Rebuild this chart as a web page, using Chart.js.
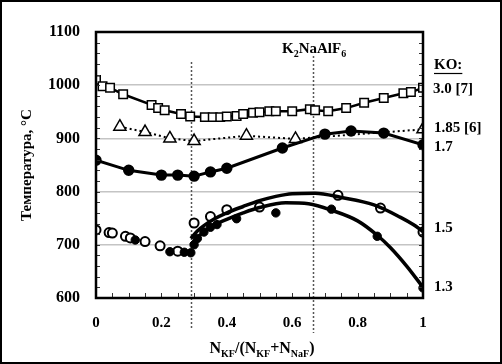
<!DOCTYPE html>
<html>
<head>
<meta charset="utf-8">
<script src="https://cdn.jsdelivr.net/npm/chart.js@4/dist/chart.umd.min.js"></script>
<style>
  body { margin: 0; background: #fff; }
  #wrap { width: 502px; height: 364px; position: relative; }
</style>
</head>
<body>
<div id="wrap"><canvas id="chart" width="502" height="364"></canvas></div>
<script>
// --- Data ---
// KO = 3.0 [7] (open squares)
const ko30X = [0, 0.02, 0.043, 0.083, 0.17, 0.19, 0.21, 0.26, 0.288, 0.333, 0.357, 0.38, 0.40, 0.43, 0.45, 0.48, 0.50, 0.53, 0.55, 0.60, 0.654, 0.67, 0.71, 0.765, 0.82, 0.88, 0.94, 0.963, 1];
const ko30T = [1010, 998, 995, 983, 963, 957, 953, 946, 941, 940, 940, 940, 941, 942, 946, 948, 949, 951, 951, 951, 955, 953, 951, 957, 967, 976, 985, 987, 995];

// KO = 1.85 [6] (open triangles, dotted)
const ko185X = [0.073, 0.15, 0.226, 0.30, 0.46, 0.61, 1];
const ko185T = [922, 912, 900, 895, 905, 899, 917];

// KO = 1.7 (filled circles, solid)
const ko17X = [0, 0.10, 0.20, 0.25, 0.30, 0.35, 0.40, 0.57, 0.70, 0.78, 0.88, 1];
const ko17T = [859, 840, 831, 831, 829, 837, 844, 882, 908, 914, 910, 888];

// KO = 1.5 (open circles)
const ko15X = [0, 0.04, 0.05, 0.09, 0.105, 0.15, 0.196, 0.25, 0.30, 0.35, 0.40, 0.50, 0.74, 0.87, 1];
const ko15T = [728, 723, 722, 716, 713, 706, 698, 688, 741, 753, 766, 771, 793, 769, 724];
const ko15FitX = [0.29, 0.31, 0.33, 0.36, 0.40, 0.45, 0.50, 0.55, 0.60, 0.67, 0.75, 0.85, 0.93, 0.97, 1];
const ko15FitT = [712, 726, 736, 748, 760, 772, 783, 791, 796, 797, 789, 775, 752, 738, 725];

// KO = 1.3 (filled circles)
const ko13X = [0.12, 0.226, 0.27, 0.29, 0.30, 0.31, 0.33, 0.35, 0.37, 0.43, 0.55, 0.72, 0.86, 1];
const ko13T = [709, 687, 686, 685, 700, 712, 724, 733, 738, 749, 760, 767, 716, 619];
const ko13FitX = [0.29, 0.31, 0.33, 0.36, 0.40, 0.45, 0.50, 0.58, 0.65, 0.72, 0.80, 0.86, 0.90, 0.95, 1];
const ko13FitT = [700, 714, 724, 737, 748, 760, 770, 779, 777, 765, 745, 718, 695, 660, 620];

// vertical markers (eutectic and K2NaAlF6)
const markerX = [0.29, 0.665];

const xTicks = [0, 0.2, 0.4, 0.6, 0.8, 1];
const yTicks = [600, 700, 800, 900, 1000, 1100];

function pts(xs, ys) {
    return xs.map((x, i) => ({ x: x, y: ys[i] }));
}

const SERIF = '"Liberation Serif", "DejaVu Serif", serif';

// --- Custom drawing: frame, minor ticks, markers and labels ---
const decorPlugin = {
    id: 'decor',
    beforeDatasetsDraw(chart) {
        const ctx = chart.ctx;
        const xs = chart.scales.x;
        ctx.save();
        ctx.strokeStyle = '#555';
        ctx.lineWidth = 1.5;
        ctx.setLineDash([2, 2]);
        const tops = [62, 56];
        const bottoms = [330, 333];
        markerX.forEach((mx, i) => {
            const px = Math.round(xs.getPixelForValue(mx)) + 0.5;
            ctx.beginPath();
            ctx.moveTo(px, tops[i]);
            ctx.lineTo(px, bottoms[i]);
            ctx.stroke();
        });
        ctx.restore();
    },
    afterDraw(chart) {
        const ctx = chart.ctx;
        const a = chart.chartArea;
        const xs = chart.scales.x, ys = chart.scales.y;
        ctx.save();

        // outer border of the picture
        ctx.strokeStyle = '#000';
        ctx.lineWidth = 2;
        ctx.strokeRect(1, 1, chart.width - 2, chart.height - 2);

        // minor ticks
        ctx.lineWidth = 1;
        ctx.strokeStyle = '#333';
        for (let v = 600; v <= 1100; v += 20) {
            const py = Math.round(ys.getPixelForValue(v)) + 0.5;
            ctx.beginPath();
            ctx.moveTo(a.left, py); ctx.lineTo(a.left + 4, py);
            ctx.moveTo(a.right, py); ctx.lineTo(a.right - 4, py);
            ctx.stroke();
        }
        for (let i = 0; i <= 20; i++) {
            const px = Math.round(xs.getPixelForValue(i * 0.05)) + 0.5;
            ctx.beginPath();
            ctx.moveTo(px, a.bottom); ctx.lineTo(px, a.bottom - 5);
            ctx.stroke();
        }

        // plot frame
        ctx.lineWidth = 2.5;
        ctx.strokeStyle = '#000';
        ctx.strokeRect(a.left, a.top, a.right - a.left, a.bottom - a.top);

        ctx.fillStyle = '#000';
        ctx.textBaseline = 'middle';

        // y axis title
        ctx.save();
        ctx.translate(27, 165);
        ctx.rotate(-Math.PI / 2);
        ctx.textAlign = 'center';
        ctx.font = 'bold 15px ' + SERIF;
        ctx.fillText('Температура, °С', 0, 0);
        ctx.restore();

        // text with subscripts, drawn piece by piece
        function drawParts(parts, x, y, big, small) {
            let cx = x;
            parts.forEach(p => {
                ctx.font = 'bold ' + (p[1] ? small : big) + 'px ' + SERIF;
                ctx.fillText(p[0], cx, p[1] ? y + 5 : y);
                cx += ctx.measureText(p[0]).width;
            });
        }
        function partsWidth(parts, big, small) {
            let w = 0;
            parts.forEach(p => {
                ctx.font = 'bold ' + (p[1] ? small : big) + 'px ' + SERIF;
                w += ctx.measureText(p[0]).width;
            });
            return w;
        }
        ctx.textAlign = 'left';
        const xTitle = [['N', 0], ['KF', 1], ['/(N', 0], ['KF', 1], ['+N', 0], ['NaF', 1], [')', 0]];
        const wT = partsWidth(xTitle, 16, 10);
        drawParts(xTitle, 262 - wT / 2, 349, 16, 10);

        const salt = [['K', 0], ['2', 1], ['NaAlF', 0], ['6', 1]];
        drawParts(salt, 282, 49, 15, 10);

        // KO legend on the right
        ctx.font = 'bold 15px ' + SERIF;
        ctx.fillText('KO:', 434, 65);
        const wKO = ctx.measureText('KO:').width;
        ctx.lineWidth = 1.2;
        ctx.beginPath();
        ctx.moveTo(434, 73.5); ctx.lineTo(434 + wKO, 73.5);
        ctx.stroke();
        ctx.fillText('3.0 [7]', 433, 89);
        ctx.fillText('1.85 [6]', 434, 128);
        ctx.fillText('1.7', 434, 147);
        ctx.fillText('1.5', 434, 228);
        ctx.fillText('1.3', 434, 287);

        ctx.restore();
    }
};

const ctx = document.getElementById('chart').getContext('2d');
new Chart(ctx, {
    type: 'scatter',
    data: {
        datasets: [
            {
                label: '1.5 fit', data: pts(ko15FitX, ko15FitT), showLine: true,
                borderColor: '#000', borderWidth: 3.5, pointRadius: 0, tension: 0.4, cubicInterpolationMode: 'monotone'
            },
            {
                label: '1.3 fit', data: pts(ko13FitX, ko13FitT), showLine: true,
                borderColor: '#000', borderWidth: 3.5, pointRadius: 0, tension: 0.4, cubicInterpolationMode: 'monotone'
            },
            {
                label: '1.3', data: pts(ko13X, ko13T), showLine: false,
                backgroundColor: '#000', borderColor: '#000', pointRadius: 4.2, borderWidth: 1
            },
            {
                label: '1.5', data: pts(ko15X, ko15T), showLine: false,
                backgroundColor: '#fff', borderColor: '#000', pointRadius: 4.5, borderWidth: 2
            },
            {
                label: '1.7', data: pts(ko17X, ko17T), showLine: true,
                borderColor: '#000', backgroundColor: '#000', borderWidth: 3, pointRadius: 4.2, tension: 0
            },
            {
                label: '1.85 [6]', data: pts(ko185X, ko185T), showLine: true,
                borderColor: '#000', backgroundColor: '#fff', borderWidth: 2, borderDash: [2, 3],
                pointStyle: 'triangle', pointRadius: 7, pointBorderWidth: 1.5, tension: 0
            },
            {
                label: '3.0 [7]', data: pts(ko30X, ko30T), showLine: true,
                borderColor: '#000', backgroundColor: '#fff', borderWidth: 2.5,
                pointStyle: 'rect', pointRadius: 6, pointBorderWidth: 1.5, tension: 0
            }
        ]
    },
    options: {
        responsive: false,
        animation: false,
        layout: { padding: { left: 0, top: 32, right: 79, bottom: 0 } },
        plugins: { legend: { display: false }, tooltip: { enabled: false } },
        scales: {
            x: {
                type: 'linear', min: 0, max: 1,
                afterFit: s => { s.height = 66; },
                afterBuildTicks: s => { s.ticks = xTicks.map(v => ({ value: v })); },
                grid: { display: false, drawTicks: false },
                border: { display: false },
                ticks: {
                    padding: 16, color: '#000',
                    font: { family: SERIF, size: 15, weight: 'bold' },
                    callback: v => String(v)
                }
            },
            y: {
                type: 'linear', min: 600, max: 1100,
                afterFit: s => { s.width = 96; },
                afterBuildTicks: s => { s.ticks = yTicks.map(v => ({ value: v })); },
                grid: {
                    drawTicks: false, lineWidth: 1.5,
                    color: c => (c.tick.value === 600 || c.tick.value === 1100) ? 'rgba(0,0,0,0)' : '#c4c4c4'
                },
                border: { display: false },
                ticks: {
                    padding: 16, color: '#000',
                    font: { family: SERIF, size: 16, weight: 'bold' },
                    callback: v => String(v)
                }
            }
        }
    },
    plugins: [decorPlugin]
});
</script>
</body>
</html>
